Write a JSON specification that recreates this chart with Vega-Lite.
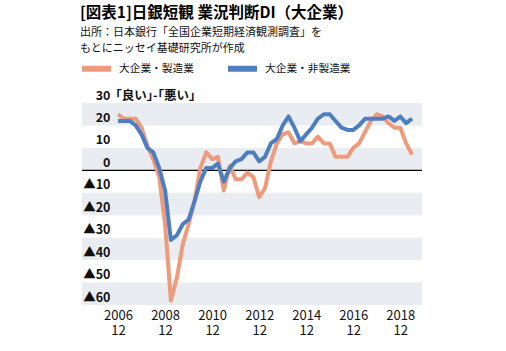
{
  "$schema": "https://vega.github.io/schema/vega-lite/v6.json",
  "width": 340,
  "height": 202,
  "autosize": {"type": "none"},
  "padding": {"left": 82, "top": 103, "right": 84, "bottom": 46},
  "config": {
    "font": "Noto Sans CJK JP",
    "view": {"stroke": null},
    "background": "#ffffff"
  },
  "title": {
    "text": "[図表1]日銀短観 業況判断DI（大企業）",
    "subtitle": ["出所：日本銀行「全国企業短期経済観測調査」を", "もとにニッセイ基礎研究所が作成"],
    "anchor": "start",
    "frame": "group",
    "dx": -2,
    "fontSize": 15.5,
    "fontWeight": "bold",
    "color": "#000000",
    "subtitleFontSize": 11,
    "subtitleColor": "#111111",
    "subtitleLineHeight": 16.5,
    "subtitlePadding": 5,
    "offset": -3
  },
  "encoding": {
    "y": {
      "field": "value", "type": "quantitative",
      "scale": {"domain": [-60, 30], "nice": false, "zero": false},
      "axis": {
        "values": [-60, -50, -40, -30, -20, -10, 0, 10, 20, 30],
        "tickCount": 10,
        "labelExpr": "datum.value < 0 ? '▲' + (-datum.value) : '' + datum.value",
        "orient": "left",
        "zindex": 2,
        "offset": -30,
        "ticks": false,
        "domain": false,
        "grid": false,
        "labelOverlap": false,
        "labelPadding": 2,
        "labelAlign": "right",
        "labelBaseline": "alphabetic",
        "labelOffset": -4,
        "labelFontSize": 12.5,
        "labelFontWeight": "bold",
        "labelColor": "#111111",
        "title": "｢良い｣-｢悪い｣",
        "titleAngle": 0,
        "titleAlign": "left",
        "titleBaseline": "alphabetic",
        "titleX": 3,
        "titleY": -4,
        "titleFontSize": 12.5,
        "titleFontWeight": "bold",
        "titleColor": "#111111"
      }
    }
  },
  "layer": [
    {
      "data": {"values": [
        {"value": 30, "lo": 20},
        {"value": 10, "lo": 0},
        {"value": -10, "lo": -20},
        {"value": -30, "lo": -40},
        {"value": -50, "lo": -60}
      ]},
      "mark": {"type": "rect", "color": "#e9ecf0"},
      "encoding": {
        "y2": {"field": "lo"}
      }
    },
    {
      "data": {"values": [{"value": 0}]},
      "mark": {"type": "rule", "color": "#000000", "strokeWidth": 1.2},
      "encoding": {}
    },
    {
      "data": {"values": [
        {"d": "2006-12-01", "mfg": 25, "non": 22},
        {"d": "2007-03-01", "mfg": 23, "non": 22},
        {"d": "2007-06-01", "mfg": 23, "non": 22},
        {"d": "2007-09-01", "mfg": 23, "non": 20},
        {"d": "2007-12-01", "mfg": 19, "non": 16},
        {"d": "2008-03-01", "mfg": 11, "non": 10},
        {"d": "2008-06-01", "mfg": 5, "non": 8},
        {"d": "2008-09-01", "mfg": -3, "non": 1},
        {"d": "2008-12-01", "mfg": -24, "non": -9},
        {"d": "2009-03-01", "mfg": -58, "non": -31},
        {"d": "2009-06-01", "mfg": -48, "non": -29},
        {"d": "2009-09-01", "mfg": -33, "non": -24},
        {"d": "2009-12-01", "mfg": -24, "non": -22},
        {"d": "2010-03-01", "mfg": -14, "non": -14},
        {"d": "2010-06-01", "mfg": 1, "non": -5},
        {"d": "2010-09-01", "mfg": 8, "non": 1},
        {"d": "2010-12-01", "mfg": 5, "non": 1},
        {"d": "2011-03-01", "mfg": 6, "non": 3},
        {"d": "2011-06-01", "mfg": -9, "non": -5},
        {"d": "2011-09-01", "mfg": 2, "non": 1},
        {"d": "2011-12-01", "mfg": -4, "non": 4},
        {"d": "2012-03-01", "mfg": -4, "non": 5},
        {"d": "2012-06-01", "mfg": -1, "non": 8},
        {"d": "2012-09-01", "mfg": -3, "non": 8},
        {"d": "2012-12-01", "mfg": -12, "non": 4},
        {"d": "2013-03-01", "mfg": -8, "non": 6},
        {"d": "2013-06-01", "mfg": 4, "non": 12},
        {"d": "2013-09-01", "mfg": 12, "non": 14},
        {"d": "2013-12-01", "mfg": 16, "non": 20},
        {"d": "2014-03-01", "mfg": 17, "non": 24},
        {"d": "2014-06-01", "mfg": 12, "non": 19},
        {"d": "2014-09-01", "mfg": 13, "non": 13},
        {"d": "2014-12-01", "mfg": 12, "non": 16},
        {"d": "2015-03-01", "mfg": 12, "non": 19},
        {"d": "2015-06-01", "mfg": 15, "non": 23},
        {"d": "2015-09-01", "mfg": 12, "non": 25},
        {"d": "2015-12-01", "mfg": 12, "non": 25},
        {"d": "2016-03-01", "mfg": 6, "non": 22},
        {"d": "2016-06-01", "mfg": 6, "non": 19},
        {"d": "2016-09-01", "mfg": 6, "non": 18},
        {"d": "2016-12-01", "mfg": 10, "non": 18},
        {"d": "2017-03-01", "mfg": 12, "non": 20},
        {"d": "2017-06-01", "mfg": 17, "non": 23},
        {"d": "2017-09-01", "mfg": 22, "non": 23},
        {"d": "2017-12-01", "mfg": 25, "non": 23},
        {"d": "2018-03-01", "mfg": 24, "non": 23},
        {"d": "2018-06-01", "mfg": 21, "non": 24},
        {"d": "2018-09-01", "mfg": 19, "non": 22},
        {"d": "2018-12-01", "mfg": 19, "non": 24},
        {"d": "2019-03-01", "mfg": 12, "non": 21},
        {"d": "2019-06-01", "mfg": 7, "non": 23}
      ]},
      "transform": [
        {"fold": ["mfg", "non"], "as": ["key", "value"]},
        {"lookup": "key", "from": {"data": {"values": [
          {"key": "mfg", "series": "大企業・製造業"},
          {"key": "non", "series": "大企業・非製造業"}
        ]}, "key": "key", "fields": ["series"]}}
      ],
      "mark": {"type": "line", "strokeWidth": 4, "strokeJoin": "round"},
      "encoding": {
        "x": {
          "field": "d", "type": "temporal",
          "scale": {"domain": [
            {"year": 2005, "month": 5, "date": 21, "utc": true},
            {"year": 2019, "month": 11, "date": 3, "utc": true}
          ]},
          "axis": {
            "values": [
              {"year": 2006, "month": 12, "date": 1, "utc": true},
              {"year": 2008, "month": 12, "date": 1, "utc": true},
              {"year": 2010, "month": 12, "date": 1, "utc": true},
              {"year": 2012, "month": 12, "date": 1, "utc": true},
              {"year": 2014, "month": 12, "date": 1, "utc": true},
              {"year": 2016, "month": 12, "date": 1, "utc": true},
              {"year": 2018, "month": 12, "date": 1, "utc": true}
            ],
            "labelExpr": "[utcFormat(datum.value, '%Y'), '12']",
            "ticks": false,
            "domain": false,
            "grid": false,
            "labelPadding": 4,
            "labelFontSize": 13,
            "labelLineHeight": 15,
            "labelColor": "#111111",
            "labelOverlap": false,
            "labelFlush": false,
            "title": null
          }
        },
        "color": {
          "field": "series", "type": "nominal",
          "scale": {"domain": ["大企業・製造業", "大企業・非製造業"], "range": ["#ee9b7b", "#4d7ec2"]},
          "legend": {
            "title": null,
            "orient": "none",
            "legendX": -3,
            "legendY": -52,
            "direction": "horizontal",
            "symbolType": "stroke",
            "symbolSize": 841,
            "symbolStrokeWidth": 6,
            "labelFontSize": 10.7,
            "labelColor": "#111111",
            "labelOffset": 5,
            "columnPadding": 22
          }
        }
      }
    }
  ]
}
